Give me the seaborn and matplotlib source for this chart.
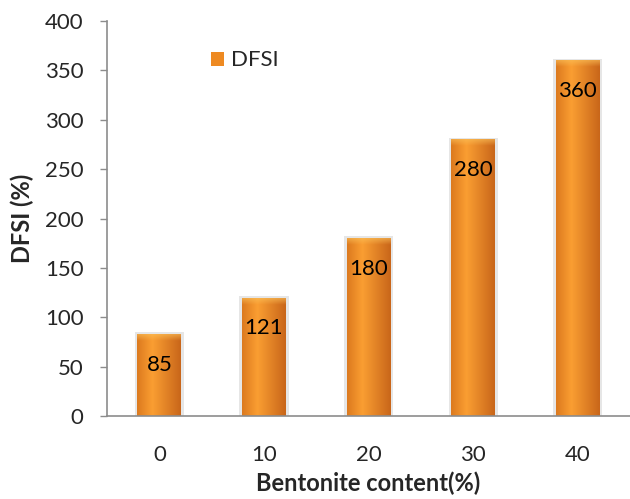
import numpy as np
import pandas as pd
import matplotlib
matplotlib.use("Agg")
import matplotlib.pyplot as plt
import seaborn as sns
from matplotlib.colors import to_rgb
from matplotlib.patches import Patch

# ─── data ────────────────────────────────────────────────────
bentonite = ["0", "10", "20", "30", "40"]
dfsi = [83, 120, 180, 280, 360]
dfsi_labels = ["85", "121", "180", "280", "360"]

df = pd.DataFrame({"bentonite": bentonite, "dfsi": dfsi})

sns.set_style("white")
plt.rcParams["font.family"] = ["Lato", "DejaVu Sans"]

fig = plt.figure(figsize=(6.30, 4.99), dpi=100)
ax = fig.add_axes([0.170, 0.166, 0.830, 0.792])

sns.barplot(data=df, x="bentonite", y="dfsi", color="#F39224",
            width=0.42, saturation=1, ax=ax)

# ─── cylinder-ish shading for each bar ───────────────────────
dark_l = np.array(to_rgb("#DC7A1F"))
light = np.array(to_rgb("#FA9E32"))
dark_r = np.array(to_rgb("#C9661A"))
t = np.linspace(0, 1, 60)
prof = np.where(t[:, None] < 0.35,
                dark_l + (light - dark_l) * (t[:, None] / 0.35),
                light + (dark_r - light) * ((t[:, None] - 0.35) / 0.65))
grad = prof[None, :, :]
cap_top = np.array(to_rgb("#FBC15A"))
for p in ax.patches:
    x0, w, h = p.get_x(), p.get_width(), p.get_height()
    # soft grey shadow behind the bar
    ax.bar(x0 + w / 2, h + 2, width=w * 1.12, color="#E6E6E6",
           zorder=2.5, linewidth=0)
    im = ax.imshow(grad, extent=[x0, x0 + w, 0, h], aspect="auto",
                   origin="lower", zorder=3, interpolation="bilinear")
    im.set_clip_path(p)
    cap = np.linspace(0, 1, 10)[:, None, None]
    cap_img = grad * (1 - cap * 0.6) + cap_top * cap * 0.6
    ax.imshow(cap_img, extent=[x0, x0 + w, h - 7, h], aspect="auto",
              origin="lower", zorder=3.5, interpolation="bilinear")

for p, lab in zip(ax.patches[:len(dfsi_labels)], dfsi_labels):
    ax.annotate(lab, (p.get_x() + p.get_width() / 2, p.get_height()),
                xytext=(0, -22), textcoords="offset points",
                ha="center", va="center", fontsize=16, color="black", zorder=5)

ax.set_xlim(-0.5, 4.5)
ax.set_ylim(0, 400)
ax.set_yticks(range(0, 401, 50))
ax.tick_params(axis="y", which="both", left=True, length=5, width=1,
               color="#8C8C8C", labelsize=16, pad=12)
ax.tick_params(axis="x", bottom=False, labelsize=16, pad=17)

for s in ["top", "right"]:
    ax.spines[s].set_visible(False)
for s in ["left", "bottom"]:
    ax.spines[s].set_color("#8C8C8C")
    ax.spines[s].set_linewidth(1.2)
    ax.spines[s].set_zorder(6)

ax.set_xlabel("Bentonite content(%)", fontsize=17, fontweight="bold", labelpad=5)
ax.set_ylabel("DFSI (%)", fontsize=17, fontweight="bold", labelpad=8)

ax.legend(handles=[Patch(facecolor="#EE8A22", edgecolor="none", label="DFSI")],
          loc="center left", bbox_to_anchor=(0.16, 0.90), frameon=False,
          fontsize=16, handlelength=0.6, handleheight=0.6, handletextpad=0.3)

fig.savefig("out.png", dpi=100)
